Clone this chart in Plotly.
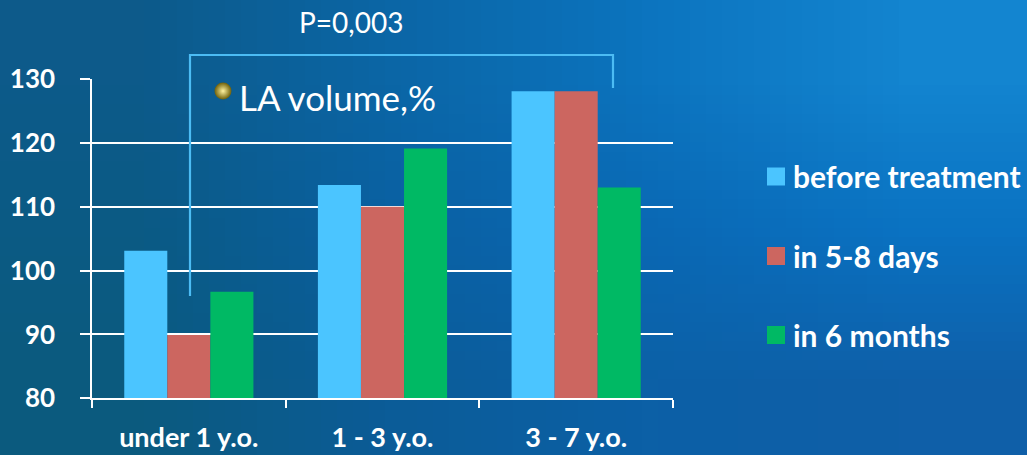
import base64
import struct
import zlib

import plotly.graph_objects as go

# ---- data ----
age_groups = ["under 1 y.o.", "1 - 3 y.o.", "3 - 7 y.o."]
series_names = ["before treatment", "in 5-8 days", "in 6 months"]
before_treatment = [103.1, 113.4, 128.1]
in_5_8_days = [89.9, 110.0, 128.1]
in_6_months = [96.7, 119.1, 113.0]
y_ticks = [80, 90, 100, 110, 120, 130]
title_text = "LA volume,%"
p_value_text = "P=0,003"

series_values = [before_treatment, in_5_8_days, in_6_months]
series_colors = ["#4bc5ff", "#cc6660", "#00b964"]

W, H = 1027, 455
FONT = "Lato"


def png_data_uri(rows):
    """Encode a small RGB pixel grid as a PNG data URI (used as a stretched gradient)."""
    h, w = len(rows), len(rows[0])
    raw = b"".join(b"\x00" + bytes(c for px in row for c in px) for row in rows)

    def chunk(tag, data):
        return (struct.pack(">I", len(data)) + tag + data
                + struct.pack(">I", zlib.crc32(tag + data) & 0xFFFFFFFF))

    png = (b"\x89PNG\r\n\x1a\n"
           + chunk(b"IHDR", struct.pack(">IIBBBBB", w, h, 8, 2, 0, 0, 0))
           + chunk(b"IDAT", zlib.compress(raw))
           + chunk(b"IEND", b""))
    return "data:image/png;base64," + base64.b64encode(png).decode()


def hx(c):
    c = c.lstrip("#")
    return tuple(int(c[i:i + 2], 16) for i in (0, 2, 4))


bg_rows = [
    [hx("#0d5a8a"), hx("#0b66a6"), hx("#0c74bf"), hx("#1385d0")],
    [hx("#0b5a84"), hx("#0a60a2"), hx("#0a68b4"), hx("#0a72c2")],
    [hx("#0b5a7e"), hx("#0b5c98"), hx("#0c60a6"), hx("#0f5fa8")],
]

# plot area in pixels
PL, PR, PT, PB = 92, 673, 79, 398.3


def px(x):
    return x / W


def py(y):
    return 1 - y / H


fig = go.Figure()

for name, vals, col in zip(series_names, series_values, series_colors):
    fig.add_trace(go.Bar(
        x=age_groups, y=vals, name=name,
        marker=dict(color=col, line=dict(width=0)),
        showlegend=False,
    ))

# gold bullet before the caption, on a full-page overlay axis
fig.add_trace(go.Scatter(
    x=[223], y=[91], xaxis="x2", yaxis="y2", mode="markers",
    marker=dict(size=17, color="#6e5f08",
                gradient=dict(type="radial", color="#fff3a0"),
                line=dict(width=0)),
    showlegend=False, hoverinfo="skip",
))

shapes = []
# significance bracket
bracket_col = "#4cbcf4"
shapes.append(dict(type="path", xref="paper", yref="paper",
                   path=f"M {px(190)},{py(296)} L {px(190)},{py(55)} "
                        f"L {px(613)},{py(55)} L {px(613)},{py(88)}",
                   line=dict(color=bracket_col, width=2.2)))

# legend swatches and labels
annotations = []
legend_rows = [176.5, 256, 335]
for name, col, yc in zip(series_names, series_colors, legend_rows):
    shapes.append(dict(type="rect", xref="paper", yref="paper",
                       x0=px(767), x1=px(785), y0=py(yc + 9), y1=py(yc - 9),
                       fillcolor=col, line=dict(width=0)))
    annotations.append(dict(xref="paper", yref="paper", x=px(791), y=py(yc),
                            text=f"<b>{name}</b>", showarrow=False,
                            xanchor="left", yanchor="middle",
                            font=dict(family=FONT, size=30, color="white")))

annotations.append(dict(xref="paper", yref="paper", x=px(351), y=py(22),
                        text=p_value_text, showarrow=False,
                        xanchor="center", yanchor="middle",
                        font=dict(family=FONT, size=28, color="white")))
annotations.append(dict(xref="paper", yref="paper", x=px(237), y=py(97),
                        text=title_text, showarrow=False,
                        xanchor="left", yanchor="middle",
                        font=dict(family=FONT, size=35, color="white")))

fig.update_layout(
    width=W, height=H,
    margin=dict(l=0, r=0, t=0, b=0, autoexpand=False),
    paper_bgcolor="#0b609c",
    plot_bgcolor="rgba(0,0,0,0)",
    barmode="group", bargap=0.333, bargroupgap=0,
    showlegend=False,
    images=[dict(source=png_data_uri(bg_rows), xref="paper", yref="paper",
                 x=0, y=1, sizex=1, sizey=1, sizing="stretch",
                 xanchor="left", yanchor="top", layer="below")],
    xaxis=dict(
        domain=[px(PL), px(PR)], automargin=False,
        tickvals=age_groups, ticktext=[f"<b>{c}</b>" for c in age_groups],
        showgrid=False, showline=True, linecolor="white", linewidth=1.5,
        ticks="outside", tickson="boundaries", ticklen=8, tickwidth=1.5,
        tickcolor="white", ticklabelstandoff=15,
        tickfont=dict(family=FONT, size=27, color="white"),
        fixedrange=True,
    ),
    yaxis=dict(
        domain=[py(PB), py(PT)], range=[80, 130], automargin=False,
        tickvals=y_ticks, ticktext=[f"<b>{v}</b>" for v in y_ticks],
        showgrid=True, gridcolor="white", gridwidth=1.5,
        showline=True, linecolor="white", linewidth=1.5,
        ticks="outside", ticklen=10, tickwidth=1.5, tickcolor="white",
        ticklabelstandoff=20, zeroline=False,
        tickfont=dict(family=FONT, size=26, color="white"),
        fixedrange=True,
    ),
    xaxis2=dict(domain=[0, 1], range=[0, W], visible=False, anchor="y2",
                fixedrange=True),
    yaxis2=dict(domain=[0, 1], range=[H, 0], visible=False, anchor="x2",
                fixedrange=True),
    shapes=shapes,
    annotations=annotations,
)

fig.write_html("out.html")
